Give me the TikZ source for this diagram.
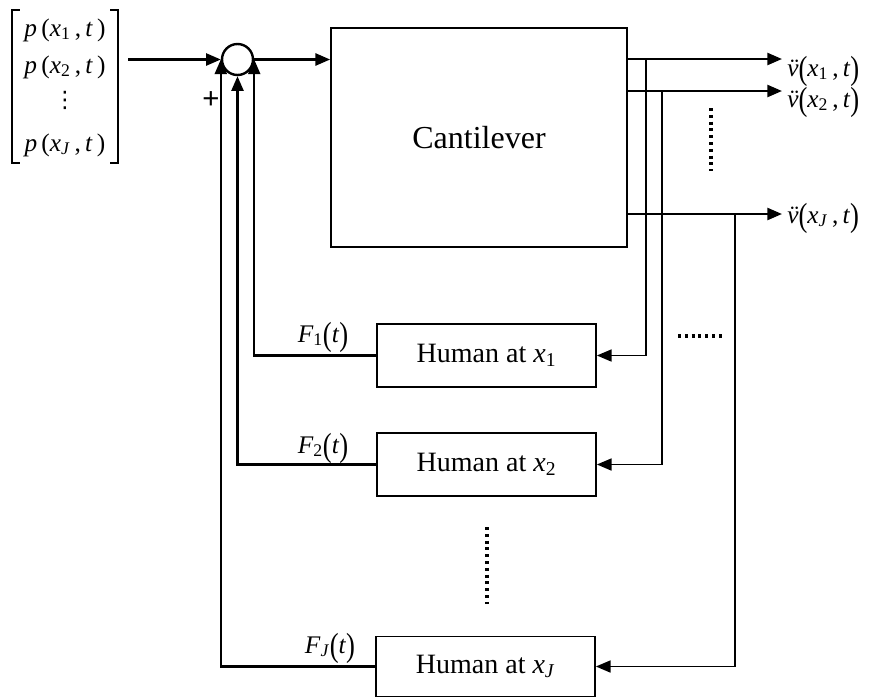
\documentclass[tikz,border=0pt]{standalone}
\usepackage{fontspec}
\usepackage{graphicx}
\setmainfont{Liberation Serif}
\newfontfamily\plusfont{Liberation Sans}
\newfontfamily\symfont{DejaVu Sans}
\usetikzlibrary{arrows.meta}
\tikzset{
 thickln/.style={line width=1.8pt},
 thinln/.style={line width=1.2pt},
 tip/.style={-{Triangle[length=11pt,width=9pt]}},
 blk/.style={draw, line width=1.3pt, inner sep=0pt, anchor=center},
 lbl/.style={inner sep=0pt, font=\fontsize{19}{21}\selectfont},
 dotln/.style={line width=2.3pt, dash pattern=on 2.3pt off 2.8pt},
}
\newcommand\sbs[1]{\textsubscript{#1}}
\newcommand\bigpar[1]{\raisebox{-0.12em}{\scalebox{1.05}[1.32]{#1}}}
\newcommand\vdd{\textit{\accent"A8 v}}
\begin{document}
\begin{tikzpicture}[x=0.75pt,y=-0.75pt]
\useasboundingbox (0,0) rectangle (885,697);
% blocks
\node[blk, minimum width=222pt, minimum height=164.25pt, font=\fontsize{24}{28}\selectfont] (cant) at (479,137.5) {Cantilever};
\node[draw, circle, thickln, minimum size=23.25pt, inner sep=0pt] (sum) at (237.5,59.5) {};
\node[blk, minimum width=164.25pt, minimum height=47.25pt, font=\fontsize{21}{24}\selectfont] (h1) at (486.5,355.5) {Human at \textit{x}\sbs{1}};
\node[blk, minimum width=164.25pt, minimum height=47.25pt, font=\fontsize{21}{24}\selectfont] (h2) at (486.5,464.5) {Human at \textit{x}\sbs{2}};
\node[blk, minimum width=164.25pt, minimum height=45pt, font=\fontsize{21}{24}\selectfont] (hJ) at (485.5,666.5) {Human at \textit{x}\sbs{\textit{J}}};
% input vector
\node[inner sep=0pt, minimum width=79.5pt, minimum height=114.75pt] (mat) at (65,86.5) {};
\node[lbl] (p1) at (65,30) {\textit{p}\,(\textit{x}\sbs{1}\,,\,\textit{t}\,)};
\node[lbl] (p2) at (65,67) {\textit{p}\,(\textit{x}\sbs{2}\,,\,\textit{t}\,)};
\node[lbl, font=\symfont\fontsize{17}{19}\selectfont] (pd) at (65,100) {⋮};
\node[lbl] (pJ) at (65,145) {\textit{p}\,(\textit{x}\sbs{\textit{J}}\,,\,\textit{t}\,)};
\draw[thinln] ([xshift=6pt]mat.north west) -- (mat.north west) -- (mat.south west) -- ([xshift=6pt]mat.south west);
\draw[thinln] ([xshift=-6pt]mat.north east) -- (mat.north east) -- (mat.south east) -- ([xshift=-6pt]mat.south east);
\node[font=\plusfont\fontsize{22}{22}\selectfont, inner sep=0pt] (plus) at (211,100) {+};
% forward path
\draw[thickln, tip, shorten <=7.5pt] (mat.east |- sum.west) -- (sum.west);
\draw[thickln, tip] (sum.east) -- (cant.west |- sum.east);
% outputs
\coordinate (o1) at (782,59);
\coordinate (o2) at (782,91);
\coordinate (oJ) at (782,214);
\draw[thickln, tip] (cant.east |- o1) -- (o1);
\draw[thickln, tip] (cant.east |- o2) -- (o2);
\draw[thickln, tip] (cant.east |- oJ) -- (oJ);
\node[lbl, anchor=west] (v1) at (787,71) {\vdd\bigpar{(}\textit{x}\sbs{1}\,,\,\textit{t}\bigpar{)}};
\node[lbl, anchor=west] (v2) at (787,102) {\vdd\bigpar{(}\textit{x}\sbs{2}\,,\,\textit{t}\bigpar{)}};
\node[lbl, anchor=west] (vJ) at (787,218) {\vdd\bigpar{(}\textit{x}\sbs{\textit{J}}\,,\,\textit{t}\bigpar{)}};
% taps to humans
\coordinate (t1) at (646,59);
\coordinate (t2) at (662,91);
\coordinate (tJ) at (735,214);
\draw[thinln, tip] (t1) |- (h1.east);
\draw[thinln, tip] (t2) |- (h2.east);
\draw[thinln, tip] (tJ) |- (hJ.east);
% feedback
\draw[thickln, tip] (h1.west) -| (sum.east);
\draw[thickln, tip] (h2.west) -| (sum.south);
\draw[thickln, tip] (hJ.west) -| (sum.west);
\node[lbl] (f1) at (323,337) {\textit{F}\sbs{1}\bigpar{(}\textit{t}\bigpar{)}};
\node[lbl] (f2) at (323,448) {\textit{F}\sbs{2}\bigpar{(}\textit{t}\bigpar{)}};
\node[lbl] (fJ) at (330,648) {\textit{F}\sbs{\textit{J}}\bigpar{(}\textit{t}\bigpar{)}};
% dots
\draw[dotln] (711,108) -- (711,171);
\draw[dotln] (678,336) -- (724,336);
\draw[dotln] (487,527) -- (487,604);
\end{tikzpicture}
\end{document}
